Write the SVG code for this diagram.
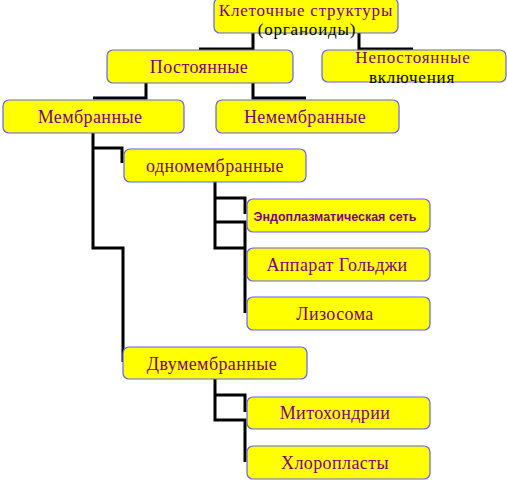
<svg xmlns="http://www.w3.org/2000/svg" width="507" height="480" viewBox="0 0 507 480">
<style>
.box{fill:#ffff00;stroke:#6060ff;stroke-width:1.2}
.t{font-family:"Liberation Serif","Times New Roman",serif;font-size:18px;fill:#800080;text-anchor:middle;letter-spacing:0.4px}
.h{font-size:17px;letter-spacing:0.8px}
.k{fill:#000000}
.s{font-family:"Liberation Sans",Arial,sans-serif;font-size:12.5px;font-weight:bold;fill:#800080;text-anchor:middle}
.c{fill:none;stroke:#000;stroke-width:3}
</style>
<rect width="507" height="480" fill="#ffffff"/>
<g id="connectors">
<path class="c" d="M253,33 V49 H199"/>
<path class="c" d="M359,33 V49 H413"/>
<path class="c" d="M146,83 V98 H93"/>
<path class="c" d="M253,83 V98 H306"/>
<path class="c" d="M93,133 V248 H123 V362"/>
<path class="c" d="M93,148 H122 V163"/>
<path class="c" d="M215,182 V248 H245"/>
<path class="c" d="M215,198 H245 V214"/>
<path class="c" d="M215,222 H245 V313"/>
<path class="c" d="M215,379 V420 H245 V462"/>
<path class="c" d="M215,395 H245 V412"/>
</g>
<g id="root">
<rect class="box" x="214" y="-2" width="184" height="35" rx="6"/>
<text class="t h" x="306" y="15.5">Клеточные структуры</text>
<text class="t h k" x="307" y="34.5">(органоиды)</text>
</g>
<g id="postoyannye">
<rect class="box" x="107" y="50" width="186" height="33" rx="6"/>
<text class="t" x="199" y="73">Постоянные</text>
</g>
<g id="nepostoyannye">
<rect class="box" x="322" y="50" width="184" height="32" rx="6"/>
<text class="t h" x="413" y="63">Непостоянные</text>
<text class="t h k" x="412" y="82.5">включения</text>
</g>
<g id="membrannye">
<rect class="box" x="3" y="100" width="181" height="33" rx="6"/>
<text class="t" x="90" y="123">Мембранные</text>
</g>
<g id="nemembrannye">
<rect class="box" x="216" y="100" width="183" height="33" rx="6"/>
<text class="t" x="305" y="123">Немембранные</text>
</g>
<g id="odnomembrannye">
<rect class="box" x="124" y="149" width="182" height="33" rx="6"/>
<text class="t" x="215" y="172">одномембранные</text>
</g>
<g id="eps">
<rect class="box" x="247" y="199" width="183" height="33" rx="6"/>
<text class="s" x="335" y="221">Эндоплазматическая сеть</text>
</g>
<g id="golgi">
<rect class="box" x="247" y="248" width="183" height="33" rx="6"/>
<text class="t" x="337" y="271">Аппарат Гольджи</text>
</g>
<g id="lizosoma">
<rect class="box" x="247" y="297" width="183" height="33" rx="6"/>
<text class="t" x="335" y="320">Лизосома</text>
</g>
<g id="dvumembrannye">
<rect class="box" x="123" y="347" width="184" height="32" rx="6"/>
<text class="t" x="212" y="370">Двумембранные</text>
</g>
<g id="mitohondrii">
<rect class="box" x="247" y="397" width="183" height="32" rx="6"/>
<text class="t" x="335" y="419">Митохондрии</text>
</g>
<g id="hloroplasty">
<rect class="box" x="247" y="446" width="183" height="33" rx="6"/>
<text class="t" x="335" y="469">Хлоропласты</text>
</g>
</svg>
